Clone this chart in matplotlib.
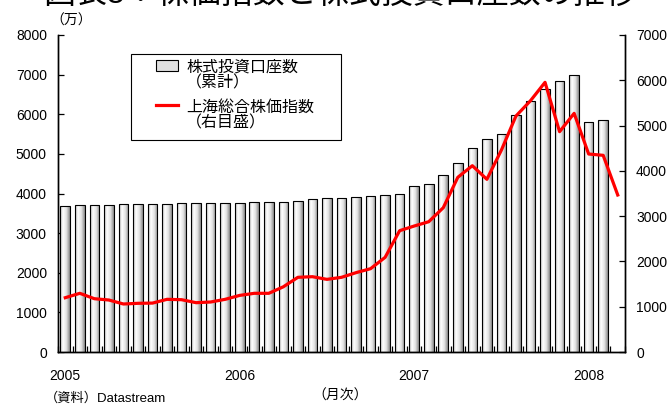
import numpy as np
import matplotlib
matplotlib.use('Agg')
import matplotlib.pyplot as plt
from matplotlib.colors import LinearSegmentedColormap
from matplotlib.patches import Patch, Rectangle
from matplotlib.lines import Line2D

plt.rcParams['font.family'] = ['Liberation Sans', 'Noto Sans CJK JP']

# 株式投資口座数 (万), 2005-01 .. 2008-02
accounts = [3695, 3704, 3704, 3712, 3729, 3737, 3737, 3746, 3754, 3754, 3763, 3763,
            3771, 3780, 3780, 3797, 3821, 3856, 3881, 3897, 3906, 3925, 3950, 3998,
            4180, 4242, 4465, 4781, 5144, 5379, 5505, 5977, 6338, 6649, 6843, 6995,
            5800, 5866]
# 上海総合株価指数 (右目盛), 2005-01 .. 2008-03
shanghai = [1199, 1296, 1177, 1148, 1060, 1075, 1080, 1163, 1155, 1089, 1104, 1163,
            1250, 1296, 1296, 1440, 1649, 1663, 1604, 1649, 1752, 1840, 2090, 2679,
            2782, 2877, 3186, 3857, 4114, 3813, 4460, 5211, 5549, 5955, 4865, 5270,
            4372, 4343, 3467]
years = ['2005', '2006', '2007', '2008']
year_idx = [0, 12, 24, 36]

fig = plt.figure(figsize=(6.72, 4.04), dpi=100)
ax = fig.add_axes([58/672, 1-352/404, 567/672, 317/404])
ax2 = ax.twinx()

n = len(shanghai)
xb = np.arange(len(accounts))
bars = ax.bar(xb, accounts, width=0.66, facecolor='none', edgecolor='black',
              linewidth=0.8, zorder=3)

cmap = LinearSegmentedColormap.from_list(
    'cyl', [(0, '#b4b4b4'), (0.3, '#ffffff'), (0.65, '#e2e2e2'), (1, '#8a8a8a')])
grad = np.linspace(0, 1, 64).reshape(1, -1)
for b in bars:
    x0, w, h = b.get_x(), b.get_width(), b.get_height()
    im = ax.imshow(grad, extent=[x0, x0 + w, 0, h], aspect='auto', cmap=cmap,
                   zorder=2, origin='lower')
    im.set_clip_path(b)

ax2.plot(np.arange(n), shanghai, color='#ff0000', lw=2.3, zorder=4)

ax.set_xlim(-0.5, n - 0.5)
ax.set_ylim(0, 8000)
ax2.set_ylim(0, 7000)
ax.set_yticks(range(0, 8001, 1000))
ax2.set_yticks(range(0, 7001, 1000))

for a in (ax, ax2):
    a.spines['top'].set_visible(False)
    for s in a.spines.values():
        s.set_linewidth(1.0)

ax.tick_params(axis='y', direction='in', length=4, width=0.9, pad=8, labelsize=10)
ax2.tick_params(axis='y', direction='in', length=4, width=0.9, pad=8, labelsize=10)

ax.set_xticks(np.arange(-0.5, n, 1.0), minor=True)
ax.set_xticks(year_idx, years)
ax.tick_params(axis='x', which='minor', direction='in', length=4, width=0.9)
ax.tick_params(axis='x', which='major', length=0, pad=12, labelsize=10)

# legend box drawn separately so the padding can match
ax2.add_patch(Rectangle((131/672, 1-140/404), 210/672, 86/404,
                        transform=fig.transFigure, facecolor='white',
                        edgecolor='black', lw=0.8, zorder=4.9, clip_on=False))
handles = [Patch(facecolor='#e0e0e0', edgecolor='black', linewidth=0.8),
           Line2D([0], [0], color='#ff0000', lw=2.3)]
labels = ['株式投資口座数\n（累計）', '上海総合株価指数\n（右目盛）']
leg = ax2.legend(handles, labels, loc='upper left',
                 bbox_to_anchor=(156/672, 1-60/404), bbox_transform=fig.transFigure,
                 borderaxespad=0, fontsize=11.5, frameon=False, handlelength=1.4,
                 handletextpad=0.5, labelspacing=0.55, borderpad=0)
for t in leg.get_texts():
    t.set_linespacing(1.05)
# put each handle next to the first line of its label
for col in leg._legend_handle_box.get_children():
    for item in col.get_children():
        item.align = 'top'

fig.text(50/672, 1-21/404, '（万）', fontsize=10, va='center', ha='left')
fig.text(45/672, 1-398/404, '（資料）Datastream', fontsize=9.5, va='center', ha='left')
fig.text(340/672, 1-396/404, '（月次）', fontsize=10, va='center', ha='center')
fig.text(340/672, 1 - 3/404, '図表5：株価指数と株式投資口座数の推移', fontsize=23,
         va='baseline', ha='center')

fig.savefig('out.png', dpi=100)
